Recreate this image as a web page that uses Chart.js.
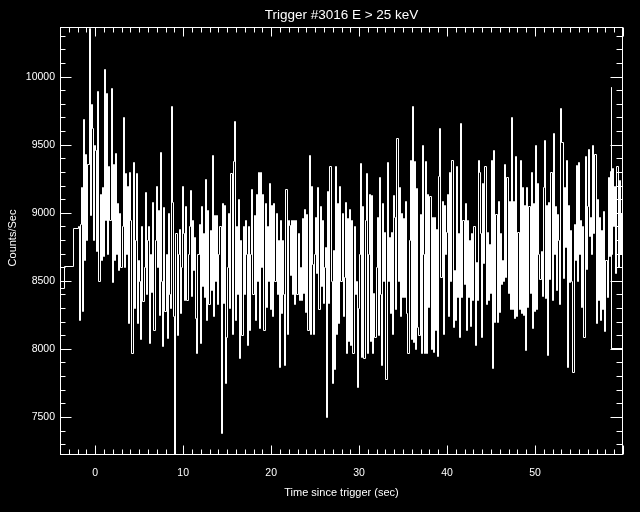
<!DOCTYPE html>
<html>
<head>
<meta charset="utf-8">
<script src="https://cdn.jsdelivr.net/npm/chart.js@4.4.0/dist/chart.umd.min.js"></script>
<style>
  html, body { margin: 0; padding: 0; background: #000; }
  canvas { display: block; }
</style>
</head>
<body>
<canvas id="lc" width="640" height="512"></canvas>
<script>
// coarse 1.024 s bins before the fine data starts
var preTimes = [-4, -3.56, -2.53];
var preCounts = [8445, 8609, 8886];

// fine bins, 8 per second, starting at binStart
var binStart = -2.0;
var binWidth = 0.125;
var counts = [
  8900, 8210, 8920, 9190, 8280, 9690, 8650, 9430,   // -2
  8800, 9360, 10360, 8980, 9800, 9620, 8800, 9500,  // -1
  9460, 8720, 9895, 8500, 9140, 8650, 9190, 8680,   // 0
  10060, 8950, 9880, 8700, 9340, 8950, 9915, 8490,
  9360, 8650, 9440, 8700, 9070, 8580, 9000, 8600,
  8900, 9700, 8600, 9290, 8700, 9200, 8190, 9300,
  8950, 7970, 9370, 8300, 8800, 9290, 8190, 8650,
  8500, 8070, 8900, 8350, 8600, 9150, 8400, 8800,   // 5
  8900, 8040, 8700, 8420, 9080, 8140, 8800, 9200,
  8600, 9020, 8250, 9450, 8500, 8020, 9040, 8280,
  8700, 8080, 9000, 8400, 8300, 9785, 9080, 8240,
  7220, 8850, 8100, 8700, 8880, 8260, 8600, 9200,
  8850, 8360, 9050, 8360, 8700, 8900, 9170, 8390,   // 10
  8950, 8580, 8820, 8230, 7970, 8700, 8920, 8040,
  9050, 8460, 8850, 8380, 9250, 8210, 9020, 8330,
  8870, 8430, 9425, 8240, 8980, 8500, 8980, 8330,
  8700, 8900, 7380, 9070, 8340, 9060, 7750, 8090,
  8600, 9000, 8300, 9290, 8110, 9380, 9675, 8210,   // 15
  8900, 8400, 9100, 7930, 8800, 8100, 8900, 8400,
  8950, 8700, 8030, 8900, 8140, 8700, 9175, 8400,
  8980, 8210, 9140, 8500, 9300, 8150, 9300, 8600,
  9140, 8140, 9070, 8310, 8900, 8500, 9220, 8290,
  9060, 8240, 9070, 8500, 9000, 8400, 8800, 7870,   // 20
  8950, 8260, 8800, 8400, 7880, 9175, 8110, 8950,
  8910, 8540, 8950, 8400, 8950, 8330, 8950, 8400,
  8850, 8360, 8600, 8360, 8960, 8410, 9030, 8270,
  8990, 8140, 9425, 8110, 9200, 8620, 8110, 8700,
  8970, 8560, 9190, 8290, 9050, 8460, 8950, 8340,   // 25
  8600, 8750, 7500, 9160, 8340, 9340, 8500, 7750,
  8730, 7850, 9340, 8110, 9070, 8190, 9200, 8500,
  9000, 8240, 8530, 9080, 7970, 8960, 8060, 9030,
  8030, 8950, 7970, 8900, 8400, 8500, 7720, 8300,
  8700, 9364, 7940, 9050, 7930, 8950, 9290, 7970,   // 30
  8700, 9140, 8060, 9130, 7970, 8410, 8090, 8600,
  8970, 8100, 9266, 8400, 7880, 9070, 8500, 8860,
  7780, 9376, 8500, 8820, 8260, 8860, 8110, 9130,
  8970, 8290, 9550, 8500, 9190, 8240, 9000, 8380,
  8960, 8380, 9090, 8260, 7970, 8800, 9390, 8070,   // 35
  9785, 8050, 9380, 8000, 9180, 8160, 8100, 8990,
  7970, 9500, 8700, 7970, 9380, 7970, 9140, 8310,
  9120, 8000, 8970, 7980, 8970, 8140, 8880, 7950,
  9270, 9626, 8530, 9090, 8110, 9060, 8700, 8860,
  9140, 8240, 9300, 8500, 9390, 8160, 8580, 8210,   // 40
  9340, 8380, 8850, 8090, 9657, 8380, 8950, 8480,
  9070, 8140, 8950, 8380, 8800, 8170, 8850, 8360,
  8900, 8030, 8640, 8360, 9388, 9300, 8850, 8090,
  9220, 8630, 9340, 8330, 8860, 8360, 8770, 8410,
  9390, 7860, 9460, 8200, 8990, 8200, 9090, 8270,   // 45
  8850, 8480, 8650, 8500, 9360, 8530, 9260, 8410,
  9090, 8290, 9700, 8290, 9090, 8230, 9420, 8240,
  8860, 8290, 9390, 8260, 9190, 8250, 9060, 7990,
  9190, 8310, 9050, 8410, 9300, 8150, 9070, 8280,
  9500, 8290, 9220, 8700, 8510, 8720, 8390, 9190,   // 50
  9535, 8370, 9060, 7955, 9080, 8510, 9300, 8360,
  9584, 8700, 9050, 8430, 8990, 8800, 8330, 9768,
  9520, 8520, 9190, 8750, 9390, 7870, 9060, 8490,
  8870, 8500, 7830, 8920, 8650, 9350, 8500, 9370,
  8700, 8950, 8310, 8900, 8090, 9420, 8590, 9050,   // 55
  9466, 8830, 8970, 8700, 9500, 8850, 9430, 8190,
  9100, 8360, 8970, 8210, 8870, 8290, 9010, 8130,
  8650, 8380, 9260, 8680, 9310, 8700, 9330, 8900,
  9200, 8560, 9340, 8600, 9240, 8700, 9000, 8600
];

// trailing coarse segment at the right edge
var tailTimes = [58.63, 58.63, 60];
var tailCounts = [9927, 8008, 8008];

var xMin = -4, xMax = 60;
var yMin = 7220, yMax = 10365;
var xTickLabels = [0, 10, 20, 30, 40, 50];
var yTickLabels = [7500, 8000, 8500, 9000, 9500, 10000];

var mainPoints = [];
preTimes.forEach(function (t, i) { mainPoints.push({ x: t, y: preCounts[i] }); });
counts.forEach(function (c, i) { mainPoints.push({ x: binStart + i * binWidth, y: c }); });
mainPoints.push({ x: xMax, y: counts[counts.length - 1] });

var tailPoints = tailTimes.map(function (t, i) { return { x: t, y: tailCounts[i] }; });

var FONT = '"Liberation Sans", Arial, sans-serif';

// snap the line vertices to pixel centres so the 1px trace stays crisp white
var crispLines = {
  id: 'crispLines',
  beforeDatasetsDraw: function (chart) {
    chart.data.datasets.forEach(function (ds, i) {
      chart.getDatasetMeta(i).data.forEach(function (p) {
        p.x = Math.round(p.x) + 0.5;
        p.y = Math.round(p.y) + 0.5;
      });
    });
  }
};

// black page, box frame with inward ticks on all four sides, titles
var idlFrame = {
  id: 'idlFrame',
  beforeDraw: function (chart) {
    var c = chart.ctx;
    c.save();
    c.fillStyle = '#000';
    c.fillRect(0, 0, chart.width, chart.height);
    c.restore();
  },
  afterDraw: function (chart) {
    var c = chart.ctx, a = chart.chartArea;
    var xs = chart.scales.x, ys = chart.scales.y;
    var L = Math.round(a.left) + 0.5, R = Math.round(a.right) - 0.5;
    var T = Math.round(a.top) + 0.5, B = Math.round(a.bottom) - 0.5;
    c.save();
    c.strokeStyle = '#fff';
    c.lineWidth = 1;
    c.strokeRect(L, T, R - L, B - T);
    c.beginPath();
    for (var v = xMin; v <= xMax; v += 1) {
      var px = Math.round(xs.getPixelForValue(v)) + 0.5;
      var len = (v % 10 === 0) ? 9 : 5;
      c.moveTo(px, B); c.lineTo(px, B - len);
      c.moveTo(px, T); c.lineTo(px, T + len);
    }
    for (var w = 7300; w <= 10300; w += 100) {
      var py = Math.round(ys.getPixelForValue(w)) + 0.5;
      var major = (w % 500 === 0);
      c.moveTo(L, py); c.lineTo(L + (major ? 11 : 5), py);
      c.moveTo(R, py); c.lineTo(R - (major ? 12 : 6), py);
    }
    c.stroke();

    c.fillStyle = '#fff';
    c.textAlign = 'center';
    c.textBaseline = 'middle';
    var cx = (a.left + a.right) / 2;
    c.font = '13.5px ' + FONT;
    c.fillText('Trigger #3016 E > 25 keV', cx, 15.5);
    c.font = '11px ' + FONT;
    c.fillText('Time since trigger (sec)', cx, 493);
    c.translate(13, (a.top + a.bottom) / 2 - 3);
    c.rotate(-Math.PI / 2);
    c.fillText('Counts/Sec', 0, 0);
    c.restore();
  }
};

var ctx = document.getElementById('lc').getContext('2d');
var chart = new Chart(ctx, {
  type: 'line',
  data: {
    datasets: [
      { data: mainPoints, borderColor: '#fff', borderWidth: 1, pointRadius: 0, stepped: true, fill: false },
      { data: tailPoints, borderColor: '#fff', borderWidth: 1, pointRadius: 0, stepped: false, fill: false }
    ]
  },
  options: {
    responsive: false,
    animation: false,
    devicePixelRatio: 1,
    layout: { padding: { top: 27, right: 17, left: 0, bottom: 0 } },
    plugins: { legend: { display: false }, tooltip: { enabled: false }, title: { display: false } },
    scales: {
      x: {
        type: 'linear', min: xMin, max: xMax,
        afterBuildTicks: function (s) { s.ticks = xTickLabels.map(function (v) { return { value: v }; }); },
        afterFit: function (s) { s.height = 57; },
        grid: { display: false, drawTicks: false },
        border: { display: false },
        ticks: { color: '#fff', font: { family: FONT, size: 10.5 }, padding: 12, maxRotation: 0, autoSkip: false,
                 callback: function (v) { return String(v); } }
      },
      y: {
        type: 'linear', min: yMin, max: yMax,
        afterBuildTicks: function (s) { s.ticks = yTickLabels.map(function (v) { return { value: v }; }); },
        afterFit: function (s) { s.width = 60; },
        grid: { display: false, drawTicks: false },
        border: { display: false },
        ticks: { color: '#fff', font: { family: FONT, size: 10.5 }, padding: 5, autoSkip: false,
                 callback: function (v) { return String(v); } }
      }
    }
  },
  plugins: [crispLines, idlFrame]
});
</script>
</body>
</html>
